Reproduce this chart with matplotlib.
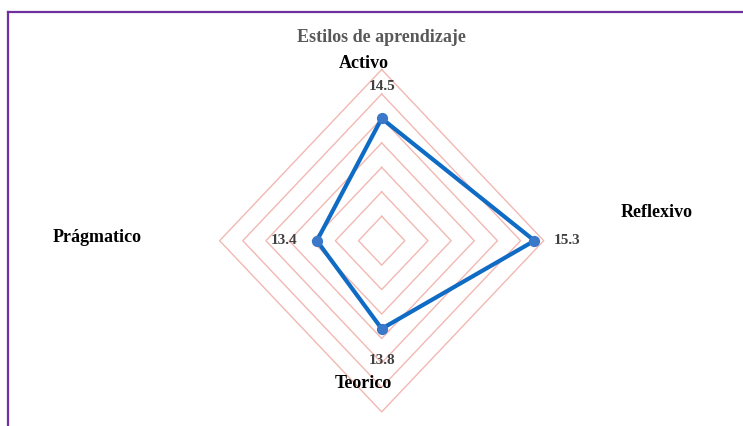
import matplotlib

matplotlib.use("Agg")
import matplotlib.pyplot as plt
import numpy as np

# radar data (clockwise from top)
categories = ["Activo", "Reflexivo", "Teorico", "Prágmatico"]
values = [14.5, 15.3, 13.8, 13.4]
value_labels = ["14.5", "15.3", "13.8", "13.4"]
r_min = 12.0
r_max = 15.5
r_step = 0.5

SERIF = ["Liberation Serif", "DejaVu Serif"]
GRID = "#F2B8B2"
LINE = "#0F6BC4"

fig = plt.figure(figsize=(7.43, 4.26), dpi=100)
ax = fig.add_axes([0, 0, 1, 1])
ax.set_xlim(-8.244, 7.804)
ax.set_ylim(-3.789, 4.922)
ax.axis("off")

# axis directions: top, right, bottom, left
dirs = np.array([[0, 1], [1, 0], [0, -1], [-1, 0]], dtype=float)

# diamond grid rings
for level in np.arange(r_min + r_step, r_max + 1e-9, r_step):
    r = level - r_min
    pts = np.vstack([dirs * r, dirs[:1] * r])
    ax.plot(pts[:, 0], pts[:, 1], color=GRID, lw=1.0, zorder=1)

# series
rs = np.array(values) - r_min
xy = dirs * rs[:, None]
closed = np.vstack([xy, xy[:1]])
ax.plot(closed[:, 0], closed[:, 1], color=LINE, lw=3.0, zorder=3,
        solid_joinstyle="miter")
ax.scatter(xy[:, 0], xy[:, 1], s=50, color="#3A78C9", zorder=4)

# value labels, pushed outward along each axis
for (dx, dy), (x, y), lab in zip(dirs, xy, value_labels):
    ax.annotate(lab, (x, y), xytext=(dx * 33, dy * 32), textcoords="offset pixels",
                ha="center", va="center", fontsize=11, fontweight="bold",
                color="#404040", family=SERIF, zorder=5)

# category labels (pixel positions)
cat_pos = {
    "Activo": (364, 63),
    "Reflexivo": (657, 212),
    "Teorico": (363, 383),
    "Prágmatico": (97, 238),
}
W, H = 743, 426
for name in categories:
    px, py = cat_pos[name]
    fig.text(px / W, 1 - py / H, name, ha="center", va="center", fontsize=13,
             fontweight="bold", color="black", family=SERIF)

fig.text(381 / W, 1 - 37 / H, "Estilos de aprendizaje", ha="center", va="center",
         fontsize=13, fontweight="bold", color="#595959", family=SERIF)

# purple frame (only top and left visible in the crop)
fig.add_artist(plt.Line2D([8 / W, 8 / W], [0, 1 - 12 / H], transform=fig.transFigure,
                          color="#7030A0", lw=1.6))
fig.add_artist(plt.Line2D([8 / W, 1], [1 - 12 / H, 1 - 12 / H], transform=fig.transFigure,
                          color="#7030A0", lw=1.6))

fig.savefig("out.png", dpi=100)
